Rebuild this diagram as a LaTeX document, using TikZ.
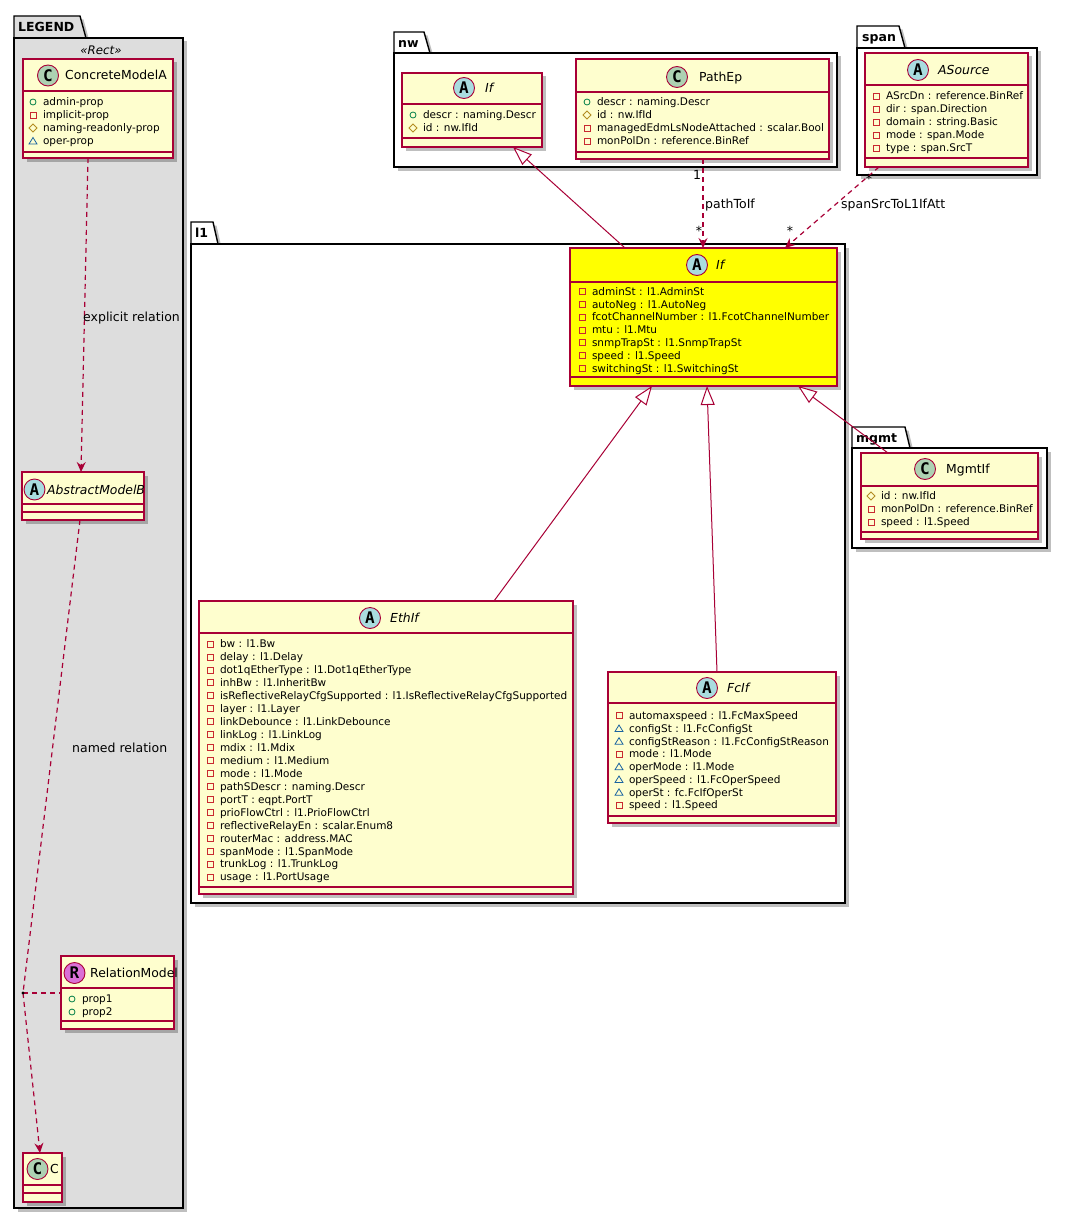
\documentclass[tikz,border=0pt]{standalone}
\usepackage{fontspec}
\setmainfont{DejaVu Sans}
\newfontfamily\circfont{DejaVu Sans Mono}
\usetikzlibrary{arrows.meta,shadows,fit}
\definecolor{umlred}{HTML}{A80036}
\definecolor{umlfill}{HTML}{FEFECE}
\definecolor{circC}{HTML}{ADD1B2}
\definecolor{circA}{HTML}{A9DCDF}
\definecolor{circR}{HTML}{DA70D6}
\definecolor{legendgray}{HTML}{DDDDDD}
\definecolor{pubc}{HTML}{038048}
\definecolor{privc}{HTML}{C82930}
\definecolor{protc}{HTML}{B38D22}
\definecolor{pkgc}{HTML}{1963A0}
\definecolor{hiyellow}{HTML}{FFFF00}
\newcounter{lblc}
\newcommand\umlclass[8]{%
  \node[classbox,fill=#8,fit={(#2,#3) (#4,#5)}] (#1) {};
  \draw[seprule] (#2,#6) -- (#4,#6);
  \draw[seprule] (#2,#7) -- (#4,#7);
}
\newcommand\icpub[2]{\draw[pubc,line width=0.8pt] (#1,#2) circle[radius=3pt];}
\newcommand\icpriv[2]{\draw[privc,line width=0.8pt] (#1-3,#2-3) rectangle (#1+3,#2+3);}
\newcommand\icprot[2]{\draw[protc,line width=0.8pt] (#1,#2-4) -- (#1+4,#2) -- (#1,#2+4) -- (#1-4,#2) -- cycle;}
\newcommand\icpkg[2]{\draw[pkgc,line width=0.8pt] (#1,#2-3.5) -- (#1+4,#2+3) -- (#1-4,#2+3) -- cycle;}
\newcommand\umlattr[4]{#1{#2}{#3}\stepcounter{lblc}\node[attrtext] (attr\arabic{lblc}) at (#2+9.8,#3) {#4};}
\begin{document}
\begin{tikzpicture}[x=1pt,y=-1pt,
  shadowed/.style={drop shadow={shadow xshift=3.5pt,shadow yshift=-3.5pt,fill=black,opacity=0.25}},
  classbox/.style={draw=umlred,line width=1.1pt,inner sep=0pt,outer sep=0pt,shadowed},
  seprule/.style={draw=umlred,line width=1.1pt},
  pkgbody/.style={draw=black,line width=1.4pt,inner sep=0pt,outer sep=0pt,fill=white,shadowed},
  pkgtab/.style={draw=black,line width=1.4pt,fill=white,shadowed},
  pkglabel/.style={anchor=west,inner sep=0pt,font=\fontsize{12.5}{14}\selectfont\bfseries,text height=9pt,text depth=0pt},
  circ/.style={circle,draw=umlred,line width=0.9pt,minimum size=21pt,inner sep=0pt,font=\circfont\fontsize{16}{16}\selectfont\bfseries},
  cname/.style={anchor=west,inner sep=0pt,font=\fontsize{12.4}{14}\selectfont,text height=9pt,text depth=0pt},
  cnamei/.style={cname,font=\fontsize{12.4}{14}\selectfont\itshape},
  attrtext/.style={anchor=west,inner sep=0pt,font=\fontsize{10.5}{12}\selectfont,text height=7.6pt,text depth=0pt},
  elabel/.style={inner sep=0pt,font=\fontsize{12.5}{14}\selectfont},
  dep/.style={umlred,line width=1.2pt,dash pattern=on 5pt off 4pt,-{Stealth[length=10pt,width=9pt,inset=3.5pt]}},
  dashrel/.style={umlred,line width=1.2pt,dash pattern=on 5pt off 4pt},
  ext/.style={umlred,line width=1pt,-{Triangle[open,length=19pt,width=14pt,fill=white]}}
]
\useasboundingbox (0,0) rectangle (1067,1220);

% ---------------- LEGEND package ----------------
\draw[pkgtab,fill=legendgray] (14,38) -- (14,16) -- (80,16) -- (86,38) -- cycle;
\node[pkgbody,fill=legendgray,fit={(14,38) (183,1208)}] (legend) {};
\node[pkglabel] (legendlbl) at (18,27.5) {LEGEND};
\node[inner sep=0pt,font=\fontsize{11.8}{13}\selectfont\itshape] (stereo) at (101,50) {«Rect»};

\umlclass{CMA}{23}{59}{173}{158}{91}{152}{umlfill}
\node[circ,fill=circC] (CMAc) at (48,75.5) {C};
\node[cname] (CMAn) at (65,75.5) {ConcreteModelA};
\umlattr\icpub{33}{102}{admin-prop}
\umlattr\icpriv{33}{115}{implicit-prop}
\umlattr\icprot{33}{128}{naming-readonly-prop}
\umlattr\icpkg{33}{141}{oper-prop}

\umlclass{AMB}{22}{472}{144}{520}{504}{512}{umlfill}
\node[circ,fill=circA] (AMBc) at (34.5,489.5) {A};
\node[cnamei] (AMBn) at (47,489.5) {AbstractModelB};

\umlclass{RM}{61}{956}{174}{1029}{988}{1021}{umlfill}
\node[circ,fill=circR] (RMc) at (74.5,973) {R};
\node[cname] (RMn) at (90,973) {RelationModel};
\umlattr\icpub{72}{999}{prop1}
\umlattr\icpub{72}{1012}{prop2}

\umlclass{CC}{23}{1153}{62}{1202}{1185}{1193}{umlfill}
\node[circ,fill=circC] (CCc) at (37.5,1169) {C};
\node[cname] (CCn) at (50,1169) {C};

% ---------------- nw package ----------------
\draw[pkgtab] (394,53) -- (394,32) -- (424,32) -- (430,53) -- cycle;
\node[pkgbody,fit={(394,53) (837,167)}] (nw) {};
\node[pkglabel] (nwlbl) at (398,43) {nw};

\umlclass{nwIf}{402}{73}{542}{147}{104}{138}{umlfill}
\node[circ,fill=circA] (nwIfc) at (464,88) {A};
\node[cnamei] (nwIfn) at (485,88) {If};
\umlattr\icpub{413}{115}{descr : naming.Descr}
\umlattr\icprot{413}{128}{id : nw.IfId}

\umlclass{PathEp}{576}{59}{829}{159}{92}{152}{umlfill}
\node[circ,fill=circC] (PathEpc) at (677,77) {C};
\node[cname] (PathEpn) at (699,77) {PathEp};
\umlattr\icpub{587}{102}{descr : naming.Descr}
\umlattr\icprot{587}{115}{id : nw.IfId}
\umlattr\icpriv{587}{128}{managedEdmLsNodeAttached : scalar.Bool}
\umlattr\icpriv{587}{141}{monPolDn : reference.BinRef}

% ---------------- span package ----------------
\draw[pkgtab] (857,48) -- (857,26) -- (899,26) -- (905,48) -- cycle;
\node[pkgbody,fit={(857,48) (1037,175)}] (span) {};
\node[pkglabel] (spanlbl) at (862,37) {span};

\umlclass{ASource}{865}{53}{1028}{167}{85}{158}{umlfill}
\node[circ,fill=circA] (ASourcec) at (918,70) {A};
\node[cnamei] (ASourcen) at (938,70) {ASource};
\umlattr\icpriv{876}{96}{ASrcDn : reference.BinRef}
\umlattr\icpriv{876}{109}{dir : span.Direction}
\umlattr\icpriv{876}{122}{domain : string.Basic}
\umlattr\icpriv{876}{135}{mode : span.Mode}
\umlattr\icpriv{876}{148}{type : span.SrcT}

% ---------------- l1 package ----------------
\draw[pkgtab] (191,244) -- (191,222) -- (213,222) -- (218,244) -- cycle;
\node[pkgbody,fit={(191,244) (845,903)}] (l1) {};
\node[pkglabel] (l1lbl) at (195,233) {l1};

\umlclass{l1If}{570}{248}{837}{386}{282}{377}{hiyellow}
\node[circ,fill=circA] (l1Ifc) at (697,265) {A};
\node[cnamei] (l1Ifn) at (716,265) {If};
\foreach \t [count=\i from 0] in {adminSt : l1.AdminSt,autoNeg : l1.AutoNeg,fcotChannelNumber : l1.FcotChannelNumber,mtu : l1.Mtu,snmpTrapSt : l1.SnmpTrapSt,speed : l1.Speed,switchingSt : l1.SwitchingSt}
  {\umlattr\icpriv{582}{291.5+12.8*\i}{\t}}

\umlclass{EthIf}{199}{601}{573}{894}{633}{887}{umlfill}
\node[circ,fill=circA] (EthIfc) at (370,618) {A};
\node[cnamei] (EthIfn) at (390,618) {EthIf};
\foreach \t [count=\i from 0] in {bw : l1.Bw,delay : l1.Delay,dot1qEtherType : l1.Dot1qEtherType,inhBw : l1.InheritBw,isReflectiveRelayCfgSupported : l1.IsReflectiveRelayCfgSupported,layer : l1.Layer,linkDebounce : l1.LinkDebounce,linkLog : l1.LinkLog,mdix : l1.Mdix,medium : l1.Medium,mode : l1.Mode,pathSDescr : naming.Descr,portT : eqpt.PortT,prioFlowCtrl : l1.PrioFlowCtrl,reflectiveRelayEn : scalar.Enum8,routerMac : address.MAC,spanMode : l1.SpanMode,trunkLog : l1.TrunkLog,usage : l1.PortUsage}
  {\umlattr\icpriv{210}{644+12.95*\i}{\t}}

\umlclass{FcIf}{608}{672}{836}{823}{703}{816}{umlfill}
\node[circ,fill=circA] (FcIfc) at (707,688) {A};
\node[cnamei] (FcIfn) at (727,688) {FcIf};
\umlattr\icpriv{619}{715.7}{automaxspeed : l1.FcMaxSpeed}
\umlattr\icpkg{619}{728.5}{configSt : l1.FcConfigSt}
\umlattr\icpkg{619}{741.2}{configStReason : l1.FcConfigStReason}
\umlattr\icpriv{619}{754}{mode : l1.Mode}
\umlattr\icpkg{619}{766.7}{operMode : l1.Mode}
\umlattr\icpkg{619}{779.5}{operSpeed : l1.FcOperSpeed}
\umlattr\icpkg{619}{792.3}{operSt : fc.FcIfOperSt}
\umlattr\icpriv{619}{805}{speed : l1.Speed}

% ---------------- mgmt package ----------------
\draw[pkgtab] (852,448) -- (852,427) -- (905,427) -- (910,448) -- cycle;
\node[pkgbody,fit={(852,448) (1047,548)}] (mgmt) {};
\node[pkglabel] (mgmtlbl) at (856,438) {mgmt};

\umlclass{MgmtIf}{861}{453}{1038}{539}{486}{532}{umlfill}
\node[circ,fill=circC] (MgmtIfc) at (925,469) {C};
\node[cname] (MgmtIfn) at (946,469) {MgmtIf};
\umlattr\icprot{871}{496}{id : nw.IfId}
\umlattr\icpriv{871}{509}{monPolDn : reference.BinRef}
\umlattr\icpriv{871}{522}{speed : l1.Speed}

% ---------------- connectors ----------------
\draw[ext] (l1If.north -| 625,0) -- (nwIf.south -| 513,0);
\draw[dep] (PathEp.south -| 703,0) -- (l1If.north -| 703,0);
\draw[dep] (ASource.south -| 879,0) -- (l1If.north -| 785,0);
\draw[ext] (EthIf.north -| 494,0) -- (l1If.south -| 652,0);
\draw[ext] (FcIf.north -| 717,0) -- (l1If.south -| 707,0);
\draw[ext] (MgmtIf.north -| 888,0) -- (l1If.south -| 798,0);

\node[elabel] (m1) at (697,175) {1};
\node[elabel] (m2) at (699,231) {*};
\node[elabel] (m3) at (790,231) {*};
\node[elabel] (m4) at (869,179) {*};
\node[elabel,anchor=west] (lblpath) at (705,205) {pathToIf};
\node[elabel,anchor=west] (lblspan) at (841,205) {spanSrcToL1IfAtt};

\coordinate (rdot) at (23,993);
\draw[dep] (CMA.south -| 88,0) -- (AMB.north -| 81,0);
\draw[dashrel] (AMB.south -| 80,0) -- (rdot);
\draw[dep] (rdot) -- (CC.north -| 40,0);
\draw[dashrel] (rdot) -- (RM.west |- rdot);
\fill[black] (rdot) circle[radius=1.7pt];
\node[elabel,anchor=west] (lblexp) at (83,318) {explicit relation};
\node[elabel,anchor=west] (lblnamed) at (72,748) {named relation};
\end{tikzpicture}
\end{document}
